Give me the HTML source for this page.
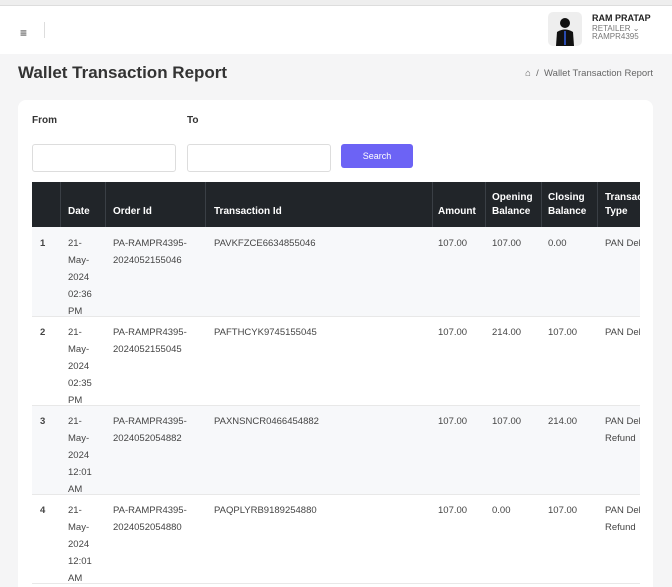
<!DOCTYPE html>
<html><head><meta charset="utf-8"><style>
*{margin:0;padding:0;box-sizing:border-box}
html,body{width:672px;height:587px;overflow:hidden}
body{background:#f5f5f6;font-family:"Liberation Sans",sans-serif;position:relative;color:#333}
.a{position:absolute}
.hdr{left:0;top:5px;width:672px;height:49px;background:#fff;border-top:1px solid #ddd}
.card{left:18px;top:100px;width:635px;height:487px;background:#fff;border-radius:8px 8px 0 0}
.inp{height:28px;border:1px solid #ddd;border-radius:3px;background:#fff}
.th{background:#212529;color:#fff;font-weight:bold;font-size:10px;line-height:14px}
.cell{font-size:9.5px;line-height:17px;color:#444}
.vl{width:1px;background:#3a3f45}
</style></head><body>
<div style="position:absolute;left:0;top:0;width:672px;height:5px;background:#eee"></div>
<div class="a hdr"></div>
<div class="a" style="left:20px;top:26px;font-size:12px;color:#333">&#8801;</div>
<div class="a" style="left:44px;top:22px;width:1px;height:16px;background:#ddd"></div>
<div class="a" style="left:548px;top:12px;width:34px;height:34px;background:#eee;border-radius:5px;overflow:hidden">
<svg width="34" height="34"><circle cx="17" cy="11" r="5" fill="#111"/><path d="M8 34 L9 20 Q17 15 25 20 L26 34Z" fill="#111"/><rect x="16" y="19" width="2" height="14" fill="#2a4bb0"/></svg></div>
<div class="a" style="left:592px;top:13px;font-size:9px;font-weight:bold;color:#222">RAM PRATAP</div>
<div class="a" style="left:592px;top:25px;font-size:8px;line-height:8px;color:#777">RETAILER ⌄<br>RAMPR4395</div>
<div class="a" style="left:18px;top:63px;font-size:17px;font-weight:bold;color:#333">Wallet Transaction Report</div>
<div class="a" style="right:19px;top:68px;font-size:9.5px;color:#666;white-space:nowrap">⌂ &nbsp;/ &nbsp;Wallet Transaction Report</div>
<div class="a card"></div>
<div class="a" style="left:32px;top:115px;font-size:10px;font-weight:bold;color:#333">From</div>
<div class="a" style="left:187px;top:115px;font-size:10px;font-weight:bold;color:#333">To</div>
<div class="a inp" style="left:32px;top:144px;width:144px"></div>
<div class="a inp" style="left:187px;top:144px;width:144px"></div>
<div class="a" style="left:341px;top:144px;width:72px;height:24px;background:#6c63f5;border-radius:3px;color:#fff;font-size:9px;text-align:center;line-height:24px">Search</div>
<div class="a th" style="left:32px;top:182px;width:608px;height:45px"></div>
<div class="a vl" style="left:60px;top:182px;height:45px"></div>
<div class="a vl" style="left:105px;top:182px;height:45px"></div>
<div class="a vl" style="left:205px;top:182px;height:45px"></div>
<div class="a vl" style="left:432px;top:182px;height:45px"></div>
<div class="a vl" style="left:485px;top:182px;height:45px"></div>
<div class="a vl" style="left:541px;top:182px;height:45px"></div>
<div class="a vl" style="left:597px;top:182px;height:45px"></div>
<div class="a th" style="left:68px;top:205px">Date</div>
<div class="a th" style="left:113px;top:205px">Order Id</div>
<div class="a th" style="left:214px;top:205px">Transaction Id</div>
<div class="a th" style="left:438px;top:205px">Amount</div>
<div class="a th" style="left:492px;top:191px">Opening<br>Balance</div>
<div class="a th" style="left:548px;top:191px">Closing<br>Balance</div>
<div class="a th" style="left:605px;top:191px;width:35px;overflow:hidden;white-space:nowrap">Transaction<br>Type</div>

<div class="a" style="left:32px;top:227px;width:608px;height:90px;background:#f7f8fa;border-bottom:1px solid #e8e8e8"></div>
<div class="a" style="left:32px;top:317px;width:608px;height:89px;background:#fff;border-bottom:1px solid #e8e8e8"></div>
<div class="a" style="left:32px;top:406px;width:608px;height:89px;background:#f7f8fa;border-bottom:1px solid #e8e8e8"></div>
<div class="a" style="left:32px;top:495px;width:608px;height:89px;background:#fff;border-bottom:1px solid #e8e8e8"></div>

<div class="a cell" style="left:40px;top:235px;font-weight:bold">1</div>
<div class="a cell" style="left:68px;top:235px">21-<br>May-<br>2024<br>02:36<br>PM</div>
<div class="a cell" style="left:113px;top:235px">PA-RAMPR4395-<br>2024052155046</div>
<div class="a cell" style="left:214px;top:235px">PAVKFZCE6634855046</div>
<div class="a cell" style="left:438px;top:235px">107.00</div>
<div class="a cell" style="left:492px;top:235px">107.00</div>
<div class="a cell" style="left:548px;top:235px">0.00</div>
<div class="a cell" style="left:605px;top:235px;width:35px;overflow:hidden;white-space:nowrap">PAN Debit</div>

<div class="a cell" style="left:40px;top:324px;font-weight:bold">2</div>
<div class="a cell" style="left:68px;top:324px">21-<br>May-<br>2024<br>02:35<br>PM</div>
<div class="a cell" style="left:113px;top:324px">PA-RAMPR4395-<br>2024052155045</div>
<div class="a cell" style="left:214px;top:324px">PAFTHCYK9745155045</div>
<div class="a cell" style="left:438px;top:324px">107.00</div>
<div class="a cell" style="left:492px;top:324px">214.00</div>
<div class="a cell" style="left:548px;top:324px">107.00</div>
<div class="a cell" style="left:605px;top:324px;width:35px;overflow:hidden;white-space:nowrap">PAN Debit</div>

<div class="a cell" style="left:40px;top:413px;font-weight:bold">3</div>
<div class="a cell" style="left:68px;top:413px">21-<br>May-<br>2024<br>12:01<br>AM</div>
<div class="a cell" style="left:113px;top:413px">PA-RAMPR4395-<br>2024052054882</div>
<div class="a cell" style="left:214px;top:413px">PAXNSNCR0466454882</div>
<div class="a cell" style="left:438px;top:413px">107.00</div>
<div class="a cell" style="left:492px;top:413px">107.00</div>
<div class="a cell" style="left:548px;top:413px">214.00</div>
<div class="a cell" style="left:605px;top:413px;width:35px;overflow:hidden;white-space:nowrap">PAN Debit<br>Refund</div>

<div class="a cell" style="left:40px;top:502px;font-weight:bold">4</div>
<div class="a cell" style="left:68px;top:502px">21-<br>May-<br>2024<br>12:01<br>AM</div>
<div class="a cell" style="left:113px;top:502px">PA-RAMPR4395-<br>2024052054880</div>
<div class="a cell" style="left:214px;top:502px">PAQPLYRB9189254880</div>
<div class="a cell" style="left:438px;top:502px">107.00</div>
<div class="a cell" style="left:492px;top:502px">0.00</div>
<div class="a cell" style="left:548px;top:502px">107.00</div>
<div class="a cell" style="left:605px;top:502px;width:35px;overflow:hidden;white-space:nowrap">PAN Debit<br>Refund</div>
</body></html>
